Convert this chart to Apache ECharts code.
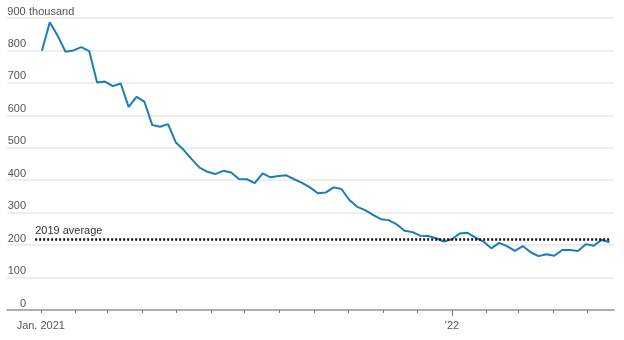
<!DOCTYPE html>
<html>
<head>
<meta charset="utf-8">
<script src="https://cdn.jsdelivr.net/npm/echarts@6/dist/echarts.min.js"></script>
<style>
  html, body { margin: 0; padding: 0; background: #fff; }
  #main { width: 624px; height: 340px; }
</style>
</head>
<body>
<div id="main"></div>
<script>
'use strict'
// weekly initial claims, thousands, weeks ending Sat. from Jan. 2, 2021
var firstWeek = '2021-01-02';
var claims = [
    799, 887, 845, 796, 800, 810, 798, 701, 704, 690,
    698, 626, 657, 642, 570, 565, 573, 516, 493, 465,
    439, 426, 419, 429, 424, 404, 403, 391, 421, 409,
    413, 415, 403, 392, 378, 360, 362, 378, 373, 339,
    318, 308, 293, 280, 277, 264, 244, 240, 229, 228,
    221, 211, 218, 236, 238, 223, 211, 190, 207, 197,
    182, 197, 178, 166, 172, 167, 185, 185, 182, 203,
    198, 216, 209
];
var avg2019 = 218;
var avgSpan = ['2020-12-27', '2022-05-22'];
var xRange = ['2020-12-02', '2022-05-25'];
var monthTicks = [
    '2021-01-01', '2021-02-01', '2021-03-01', '2021-04-01', '2021-05-01', '2021-06-01',
    '2021-07-01', '2021-08-01', '2021-09-01', '2021-10-01', '2021-11-01', '2021-12-01',
    '2022-01-01', '2022-02-01', '2022-03-01', '2022-04-01', '2022-05-01'
];
var labelTicks = ['2021-01-01', '2022-01-01'];
var labelText = ['Jan. 2021', '\u201922'];

var DAY = 24 * 3600 * 1000;
function ts(d) { return +new Date(d + 'T00:00:00Z'); }
var t0 = ts(firstWeek);
var seriesData = claims.map(function (v, i) { return [t0 + i * 7 * DAY, v]; });
var labelTs = labelTicks.map(ts);

var font = "'Liberation Sans', Arial, sans-serif";
var txt = '#555';

var chart = echarts.init(document.getElementById('main'));
var option = {
    animation: false,
    grid: { left: 7, right: 10, top: 18, bottom: 30, containLabel: false, outerBoundsMode: 'none' },
    xAxis: [{
        type: 'value',
        min: ts(xRange[0]),
        max: ts(xRange[1]),
        splitLine: { show: false },
        axisLine: { lineStyle: { color: '#9a9a9a', width: 1.5 } },
        axisTick: {
            customValues: monthTicks.map(ts),
            length: 3,
            lineStyle: { color: '#777', width: 1 }
        },
        axisLabel: {
            customValues: labelTs,
            formatter: function (val) {
                var i = labelTs.indexOf(val);
                return i >= 0 ? labelText[i] : '';
            },
            color: txt,
            fontFamily: font,
            fontSize: 11,
            margin: 10
        }
    }, {
        type: 'value',
        position: 'bottom',
        min: ts(xRange[0]),
        max: ts(xRange[1]),
        splitLine: { show: false },
        axisLine: { show: false },
        axisTick: {
            customValues: [ts('2022-01-01')],
            length: 6,
            lineStyle: { color: '#777', width: 1 }
        },
        axisLabel: { show: false }
    }],
    yAxis: {
        type: 'value',
        min: 0,
        max: 900,
        interval: 100,
        axisLine: { show: false },
        axisTick: { show: false },
        splitLine: { lineStyle: { color: '#e8e8e8', width: 1.5 } },
        axisLabel: {
            align: 'left',
            verticalAlign: 'bottom',
            margin: 0,
            padding: [0, 0, 1, 0],
            formatter: function (v) {
                return v === 900 ? '{n|' + v + '}{t| thousand}' : '{n|' + v + '}';
            },
            rich: {
                n: { width: 19, align: 'right', color: txt, fontFamily: font, fontSize: 11 },
                t: { color: txt, fontFamily: font, fontSize: 11 }
            }
        }
    },
    series: [{
        type: 'line',
        data: seriesData,
        symbol: 'none',
        lineStyle: { color: '#1a7db6', width: 2 },
        z: 3,
        markLine: {
            silent: true,
            symbol: 'none',
            lineStyle: { color: '#111', width: 2.5, type: [2, 2] },
            label: {
                show: true,
                position: 'insideStartTop',
                formatter: '2019 average',
                color: '#333',
                fontFamily: font,
                fontSize: 11,
                distance: [0, 3]
            },
            data: [[
                { coord: [ts(avgSpan[0]), avg2019] },
                { coord: [ts(avgSpan[1]), avg2019] }
            ]]
        }
    }]
};
chart.setOption(option);
</script>
</body>
</html>
